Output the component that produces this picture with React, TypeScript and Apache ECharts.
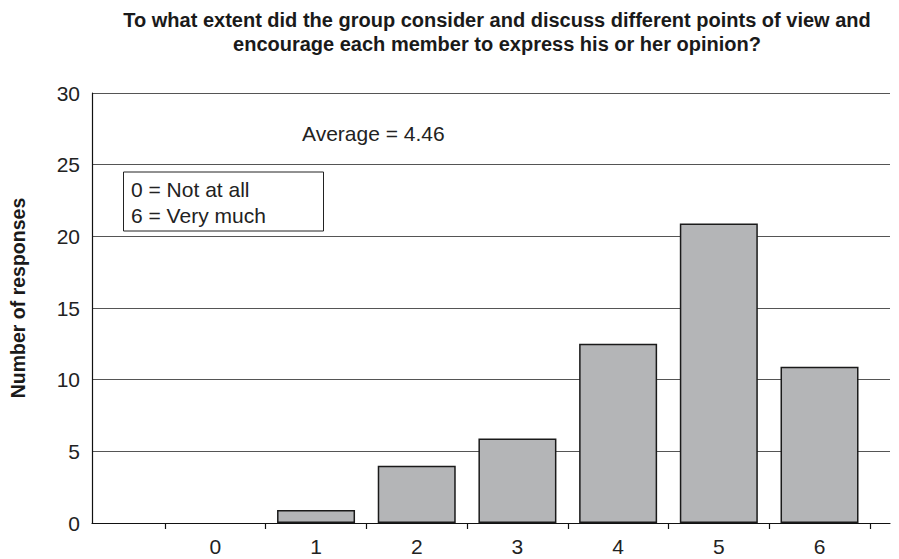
import React, { useEffect, useRef } from "react";
import * as echarts from "echarts";

const categories = [0, 1, 2, 3, 4, 5, 6];
const responses = [0, 0.9, 4, 5.9, 12.5, 20.9, 10.9];
const yTicks = { min: 0, max: 30, interval: 5 };
const titleLines = [
  "To what extent did the group consider and discuss different points of view and",
  "encourage each member to express his or her opinion?",
];
const averageText = "Average = 4.46";
const scaleNotes = ["0 = Not at all", "6 = Very much"];
const yAxisTitle = "Number of responses";

const FONT = "'Liberation Sans', Arial, Helvetica, sans-serif";

export default function App() {
  const ref = useRef<HTMLDivElement>(null);
  useEffect(() => {
    if (!ref.current) return;
    const chart = echarts.init(ref.current, undefined, { renderer: "svg" });
    const tickVals = [-0.5, ...categories.map((c) => c + 0.5)];
    chart.setOption({
      animation: false,
      backgroundColor: "#ffffff",
      textStyle: { fontFamily: FONT },
      grid: { left: 92, right: 9, top: 93, bottom: 36 },
      xAxis: {
        type: "value",
        min: -1.225,
        max: 6.7,
        splitLine: { show: false },
        axisLine: { show: true, onZero: false, lineStyle: { color: "#111", width: 1.2 } },
        axisTick: {
          show: true,
          customValues: tickVals,
          length: 6,
          lineStyle: { color: "#111", width: 1.2 },
        },
        axisLabel: {
          customValues: categories,
          fontSize: 21,
          color: "#222",
          margin: 13,
          fontFamily: FONT,
        },
      },
      yAxis: {
        type: "value",
        min: yTicks.min,
        max: yTicks.max,
        interval: yTicks.interval,
        axisLine: { show: true, onZero: false, lineStyle: { color: "#111", width: 1.2 } },
        axisTick: { show: false },
        axisLabel: { fontSize: 21, color: "#222", margin: 12, fontFamily: FONT },
        splitLine: { show: true, lineStyle: { color: "#555", width: 1.2 } },
      },
      series: [
        {
          type: "bar",
          data: categories.map((c, i) =>
            responses[i] === 0
              ? { value: [c, responses[i]], itemStyle: { borderWidth: 0 } }
              : { value: [c, responses[i]] }
          ),
          barWidth: 78,
          itemStyle: { color: "#b4b5b7", borderColor: "#1a1a1a", borderWidth: 1.5 },
        },
      ],
      graphic: [
        {
          type: "text",
          x: 497,
          y: 8,
          style: {
            text: titleLines.join("\n"),
            font: `bold 20px ${FONT}`,
            lineHeight: 24,
            fill: "#1a1a1a",
            textAlign: "center",
          },
        },
        {
          type: "text",
          x: 17.5,
          y: 298,
          rotation: Math.PI / 2,
          style: {
            text: yAxisTitle,
            font: `bold 19.5px ${FONT}`,
            fill: "#1a1a1a",
            textAlign: "center",
            textVerticalAlign: "middle",
          },
        },
        {
          type: "text",
          x: 302,
          y: 123,
          style: { text: averageText, font: `21px ${FONT}`, fill: "#222" },
        },
        {
          type: "rect",
          shape: { x: 123.5, y: 172, width: 200, height: 59 },
          style: { fill: "#fff", stroke: "#222", lineWidth: 1 },
        },
        {
          type: "text",
          x: 131,
          y: 176,
          style: { text: scaleNotes.join("\n"), font: `21px ${FONT}`, lineHeight: 26, fill: "#222" },
        },
      ],
    });
    return () => chart.dispose();
  }, []);
  return <div ref={ref} style={{ width: 899, height: 559, position: "absolute", left: 0, top: 0 }} />;
}
